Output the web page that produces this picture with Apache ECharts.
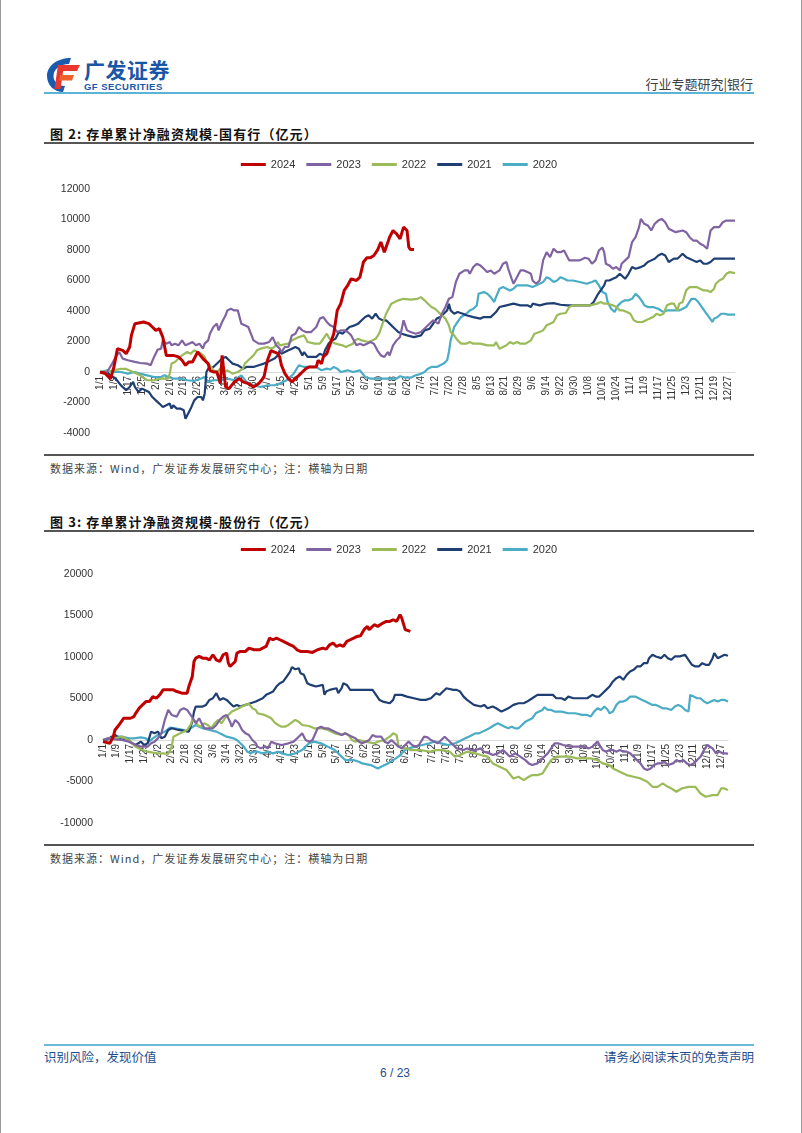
<!DOCTYPE html>
<html><head><meta charset="utf-8">
<script src="https://cdn.jsdelivr.net/npm/echarts@6/dist/echarts.min.js"></script>
<style>
body{margin:0;background:#fff;}
#page{position:relative;width:802px;height:1133px;overflow:hidden;background:#fff;font-family:"Noto Sans CJK SC","Noto Sans",sans-serif;}
.abs{position:absolute;white-space:nowrap;}
.vl{position:absolute;top:0;width:1px;height:1133px;background:#9a9a9a;}
.title{font-size:13px;font-weight:bold;color:#111;letter-spacing:1.1px;}
.rule{position:absolute;left:44px;width:710px;background:#555;}
.src{font-size:11px;color:#444;letter-spacing:1px;}
.foot{font-size:12.5px;color:#1f4e8c;}
</style></head>
<body>
<div id="page">
  <div class="vl" style="left:0"></div>
  <div class="vl" style="left:801px"></div>

  <svg class="abs" style="left:44px;top:55px" width="38" height="38" viewBox="0 0 38 38">
    <path d="M27 3 C13 3 3 11 3 21 C3 30 10 37 19 37 L21 31 C14 31 9.5 26.5 9.5 21 C9.5 14 16 9 25 9 Z" fill="#1a5bb0"/>
    <path d="M14 10 L36 10 L33 16 L17 16 Z" fill="#e8382f"/>
    <path d="M14 10 L20 10 L16.5 34 L10.5 34 Z" fill="#e8382f"/>
    <path d="M16 20 L30 20 L28 25.5 L15 25.5 Z" fill="#f0602a"/>
  </svg>
  <div class="abs" style="left:84px;top:54px;font-size:21px;font-weight:bold;color:#1a56a8;letter-spacing:0.5px;">广发证券</div>
  <div class="abs" style="left:84px;top:81px;font-size:9.5px;font-weight:bold;color:#1a56a8;font-family:'Liberation Sans',Arial,sans-serif;letter-spacing:0.45px;">GF SECURITIES</div>
  <div class="abs" style="right:49px;top:74px;font-size:13px;color:#404040;">行业专题研究|银行</div>
  <div class="abs" style="left:44px;top:92px;width:710px;height:2px;background:#5cb3d8;"></div>

  <div class="abs title" style="left:50px;top:124px;">图 2: 存单累计净融资规模-国有行（亿元）</div>
  <div class="rule" style="top:142px;height:2px;"></div>
  <div id="c1" class="abs" style="left:44px;top:150px;width:710px;height:302px;"></div>
  <div class="rule" style="top:454px;height:1.5px;"></div>
  <div class="abs src" style="left:50px;top:460px;">数据来源：Wind，广发证券发展研究中心；注：横轴为日期</div>

  <div class="abs title" style="left:50px;top:512px;">图 3: 存单累计净融资规模-股份行（亿元）</div>
  <div class="rule" style="top:530px;height:2px;"></div>
  <div id="c2" class="abs" style="left:44px;top:538px;width:710px;height:302px;"></div>
  <div class="rule" style="top:844px;height:1.5px;"></div>
  <div class="abs src" style="left:50px;top:850px;">数据来源：Wind，广发证券发展研究中心；注：横轴为日期</div>

  <div class="abs" style="left:44px;top:1044px;width:710px;height:2px;background:#6bbad8;"></div>
  <div class="abs foot" style="left:44px;top:1047px;">识别风险，发现价值</div>
  <div class="abs foot" style="right:48px;top:1047px;">请务必阅读末页的免责声明</div>
  <div class="abs foot" style="left:380px;top:1066px;width:30px;text-align:center;font-family:'Liberation Sans',Arial,sans-serif;font-size:12px;">6 / 23</div>
</div>
<script>
// ---- categories (daily, 1/1 .. 12/31) ----
const monthDays = [31,28,31,30,31,30,31,31,30,31,30,31];
const dateLabels = [];
monthDays.forEach((n, m) => { for (let d = 1; d <= n; d++) dateLabels.push((m + 1) + '/' + d); });

const seriesNames = ['2024','2023','2022','2021','2020'];
const seriesColors = ['#c00000','#8064a2','#9bbb59','#1f3f73','#4bacc6'];

// ---- 图2 国有行: [day of year (0 = 1/1), 亿元] ----
const soe2024 = [[0,0],[3,-100],[6,-450],[8,330],[10,1530],[13,1420],[15,1200],[17,1640],[18,2400],[19,2290],[20,3170],[21,3280],[25,3280],[28,3170],[30,2950],[32,2730],[34,2840],[35,2950],[36,2290],[38,1090],[42,1090],[45,990],[47,770],[49,440],[51,660],[53,660],[54,770],[56,1310],[57,1420],[59,880],[62,550],[63,110],[65,0],[67,0],[69,-760],[70,1090],[72,-980],[74,-1090],[77,-650],[80,-430],[82,-650],[83,-540],[85,-760],[88,-980],[91,-760],[94,-330],[96,770],[98,1400],[100,1310],[102,1200],[103,990],[104,440],[106,-110],[108,-430],[110,-650],[112,-430],[114,-220],[116,0],[118,220],[120,330],[122,330],[124,330],[125,770],[127,550],[128,990],[130,1200],[132,1860],[134,2510],[136,4040],[138,4480],[140,5350],[142,5680],[144,6110],[145,6000],[147,6000],[149,6220],[151,7210],[153,7490],[155,7490],[157,7640],[159,7970],[161,8520],[163,7860],[164,7750],[166,8840],[168,9280],[170,9060],[172,8730],[174,9500],[176,9280],[177,8190],[178,8030],[180,8030]];
const soe2023 = [[0,0],[4,0],[7,550],[9,990],[11,1310],[13,880],[16,770],[20,660],[23,590],[27,550],[29,440],[31,990],[33,1460],[35,1530],[36,2070],[38,1860],[40,1970],[41,1750],[43,1860],[45,1750],[47,2070],[49,1750],[51,1860],[53,1970],[55,1750],[57,1860],[59,1530],[60,1860],[62,2070],[63,2510],[65,2950],[67,3170],[68,2730],[70,3280],[72,3720],[73,4040],[75,4150],[77,4040],[79,4040],[81,3170],[83,3060],[85,2950],[88,2070],[91,1860],[94,1860],[97,1970],[99,2290],[101,1750],[103,1530],[104,1310],[106,1640],[108,1640],[110,2400],[112,2510],[114,2950],[116,2730],[118,2620],[121,2620],[124,2950],[126,3500],[128,3600],[130,3280],[132,3060],[134,2950],[136,2620],[138,2730],[140,2730],[142,2620],[144,2400],[145,2180],[147,1750],[149,1860],[151,1750],[153,1860],[155,1970],[157,1860],[159,1420],[161,1090],[163,990],[165,1310],[166,1090],[168,1750],[170,2070],[172,2290],[174,3390],[175,3500],[176,2730],[178,2620],[181,2510],[184,2620],[187,2950],[191,3390],[194,3170],[196,3820],[198,4260],[200,4800],[202,4910],[204,5900],[206,6440],[207,6550],[209,6660],[211,6660],[212,6440],[214,6880],[216,7100],[218,6990],[220,6770],[222,6550],[224,6660],[226,6440],[227,6550],[229,6660],[231,7100],[233,7210],[234,6770],[236,6110],[237,5790],[239,6220],[241,6660],[243,6660],[245,6550],[247,6440],[248,6000],[250,5790],[252,6000],[254,7320],[256,7860],[258,7530],[260,8080],[262,7860],[264,7860],[266,7970],[268,7530],[269,7320],[275,7320],[278,7490],[280,7430],[282,7100],[284,7320],[286,7970],[288,8150],[289,7860],[290,7100],[292,6990],[294,6770],[296,6880],[298,6660],[299,7100],[301,7320],[303,7530],[305,8520],[307,8840],[309,9500],[310,10040],[312,9720],[314,9610],[316,9280],[318,9720],[320,9930],[322,10040],[324,9820],[326,9390],[328,9280],[330,9170],[331,9280],[334,9280],[336,9170],[338,8840],[340,8620],[342,8620],[344,8410],[346,8300],[348,8080],[350,9280],[352,9500],[353,9610],[355,9500],[357,9820],[359,9930],[364,9930]];
const soe2022 = [[0,0],[7,100],[12,200],[15,200],[19,0],[23,-220],[27,-540],[31,-540],[35,-430],[39,-430],[40,-110],[41,550],[43,660],[45,880],[47,1090],[50,1310],[52,1200],[54,1420],[56,1310],[58,1200],[60,990],[61,660],[63,440],[65,110],[67,0],[69,220],[71,0],[73,110],[76,-110],[79,0],[82,220],[83,550],[85,770],[88,1090],[90,1420],[92,1530],[96,1640],[98,1530],[100,1640],[102,1970],[103,1750],[108,1860],[110,2070],[112,2180],[114,2290],[117,2400],[119,1970],[123,1860],[126,1860],[128,2180],[130,2510],[131,2290],[133,1970],[135,1860],[139,1750],[141,1640],[143,1750],[145,1860],[146,2070],[148,2180],[150,2070],[154,1970],[156,2070],[158,2180],[160,2510],[162,3170],[164,3820],[166,4260],[167,4480],[169,4590],[171,4700],[174,4800],[178,4750],[182,4800],[184,4910],[186,4700],[188,4480],[190,4260],[192,4150],[194,3930],[196,3720],[198,3500],[200,3060],[201,2620],[203,2400],[205,2070],[207,1860],[208,1750],[210,1860],[212,1970],[214,1860],[218,1860],[222,1750],[226,1750],[227,1970],[229,1530],[231,1640],[233,1750],[235,1970],[237,1860],[239,1970],[241,1860],[244,1860],[247,2070],[249,2510],[250,2510],[252,2620],[254,2730],[256,3060],[258,3170],[260,3280],[262,3720],[264,3820],[267,3870],[269,4260],[271,4370],[281,4370],[285,4480],[287,4590],[289,4480],[291,4480],[294,4370],[296,4260],[298,4040],[300,4040],[302,3930],[304,3820],[306,3390],[308,3280],[311,3280],[313,3390],[315,3500],[317,3600],[319,3820],[321,3720],[323,3820],[325,4370],[327,4480],[329,4480],[331,4040],[332,4480],[334,4590],[336,5350],[338,5570],[342,5570],[344,5460],[346,5350],[348,5350],[350,5240],[352,5460],[353,5790],[355,6000],[357,6110],[359,6440],[361,6550],[364,6480]];
const soe2021 = [[0,0],[4,0],[6,-220],[9,-440],[12,-880],[15,-1200],[17,-980],[19,-650],[20,-980],[22,-1310],[24,-1090],[26,-1200],[28,-1310],[30,-1640],[32,-1860],[34,-2070],[36,-2290],[38,-2180],[40,-2070],[41,-2400],[42,-2180],[44,-2400],[46,-2400],[48,-2510],[49,-3060],[50,-2950],[52,-2400],[54,-1860],[56,-1640],[58,-1640],[59,-1860],[60,-1420],[61,0],[62,220],[65,330],[68,660],[70,880],[72,990],[74,770],[76,550],[79,440],[82,220],[84,330],[88,330],[91,440],[94,550],[96,660],[98,770],[100,880],[102,1090],[103,1420],[104,1200],[106,1310],[108,1420],[110,1530],[112,1640],[114,1530],[116,1090],[117,1310],[119,990],[124,990],[126,1200],[128,1090],[129,1420],[131,1860],[133,2070],[135,2180],[137,2620],[139,2510],[141,2730],[143,2950],[146,3060],[148,3170],[150,3390],[152,3610],[154,3720],[156,3500],[158,3820],[160,3500],[162,3390],[164,3390],[166,3170],[167,3060],[169,2840],[171,2620],[173,2510],[176,2400],[180,2290],[184,2400],[186,2730],[187,2620],[189,2840],[191,3170],[193,3500],[195,3600],[197,3820],[199,4040],[200,4480],[201,4040],[203,3820],[205,3930],[206,4040],[208,3820],[210,3720],[214,3600],[218,3500],[220,3600],[224,3600],[227,3930],[229,4260],[233,4370],[237,4480],[241,4370],[245,4370],[247,4260],[248,4480],[252,4370],[256,4480],[260,4520],[264,4410],[268,4370],[281,4370],[283,4590],[285,5020],[287,5350],[289,5680],[290,6000],[292,6000],[294,6110],[296,6220],[298,6440],[299,6550],[301,6110],[303,6440],[305,6880],[307,6770],[310,6880],[312,6990],[314,7210],[316,7320],[318,7430],[320,7640],[322,7750],[324,7640],[326,7210],[327,7100],[329,7430],[331,7430],[332,7530],[334,7750],[336,7530],[338,7430],[340,7320],[342,7210],[344,7320],[346,7100],[348,7100],[350,7210],[352,7430],[364,7430]];
const soe2020 = [[0,0],[4,110],[8,0],[12,0],[16,-110],[20,0],[23,-110],[27,-220],[31,-330],[35,-330],[37,-220],[39,-330],[42,-430],[46,-430],[50,-540],[54,-590],[58,-430],[60,-330],[62,-650],[65,-540],[69,-540],[73,-430],[77,-540],[81,-220],[84,-650],[88,-870],[92,-980],[96,-870],[100,-870],[103,-760],[107,-540],[111,-110],[114,440],[117,330],[121,330],[124,330],[127,110],[130,220],[132,160],[134,330],[136,220],[138,0],[142,110],[145,0],[149,110],[152,-330],[155,-430],[161,-430],[166,-430],[170,-430],[172,-280],[175,-370],[178,-370],[181,-220],[184,-110],[186,0],[188,220],[190,330],[193,330],[195,440],[197,550],[199,770],[200,1310],[201,2070],[203,2950],[205,3280],[207,3610],[208,3720],[210,3820],[212,4040],[214,4150],[216,4370],[217,5130],[220,5240],[222,5130],[224,4910],[226,4590],[227,4910],[229,5460],[231,5570],[233,5460],[235,5350],[237,5460],[239,5680],[245,5680],[248,5570],[250,5680],[252,5790],[254,5900],[256,6220],[258,6110],[260,5900],[262,6000],[264,6220],[266,6110],[268,6000],[271,6000],[275,5900],[279,5790],[282,5900],[284,6000],[286,5680],[288,5240],[290,5130],[291,4590],[293,4150],[295,3930],[297,4370],[299,4590],[301,4700],[303,4700],[305,4800],[307,5130],[309,4910],[311,4590],[312,4370],[314,4260],[317,4260],[320,4150],[323,3930],[325,4040],[332,4040],[336,4260],[339,4800],[341,4800],[343,4590],[345,4260],[347,3930],[349,3610],[351,3280],[352,3500],[354,3610],[356,3820],[358,3820],[360,3760],[364,3760]];

// ---- 图3 股份行: [day of year (0 = 1/1), 亿元] ----
const jsb2024 = [[0,-200],[4,-400],[6,400],[7,1210],[10,2010],[12,2620],[16,2620],[18,2820],[19,3220],[21,3820],[23,4230],[25,4630],[27,4630],[29,5230],[31,5030],[33,5440],[35,6040],[37,6040],[41,6040],[43,5840],[46,5640],[49,5640],[50,6440],[52,7650],[53,9460],[54,9860],[56,10070],[58,9860],[60,9860],[62,9660],[64,10270],[66,9660],[68,9460],[70,10270],[72,10470],[73,9260],[74,8860],[75,8660],[77,9460],[78,10470],[80,10670],[83,10670],[85,11070],[88,10870],[89,11070],[91,10870],[93,11070],[95,11270],[97,12280],[99,12080],[101,12280],[103,12080],[105,11880],[107,11680],[109,11470],[111,11270],[113,10870],[115,10670],[119,10670],[122,10550],[125,10870],[128,11070],[130,10950],[132,11470],[134,11680],[136,11270],[138,11470],[140,11270],[142,11880],[144,12080],[146,12280],[148,12480],[150,12560],[152,13290],[154,13690],[155,13290],[156,13490],[158,13890],[160,13690],[161,13890],[163,14090],[165,14290],[167,14290],[169,14490],[171,14290],[173,15100],[174,14690],[176,13290],[177,13080],[179,13080]];
const jsb2023 = [[0,0],[3,200],[7,80],[11,0],[15,-200],[17,-400],[19,-600],[20,-720],[22,-800],[26,-800],[28,-400],[30,-200],[32,200],[34,800],[36,2420],[37,3020],[38,3620],[40,3020],[41,3220],[43,2820],[45,3620],[47,3820],[49,3620],[51,3020],[53,2420],[54,2010],[56,2620],[57,2210],[59,1410],[60,1210],[62,1410],[64,1410],[66,1810],[68,2420],[70,2820],[72,3020],[74,2210],[75,1610],[77,2420],[79,2010],[81,1210],[83,800],[85,600],[87,0],[89,-400],[90,-800],[92,-1010],[94,-800],[96,-1010],[98,-200],[100,-400],[104,-600],[108,-400],[111,-200],[114,400],[116,800],[118,0],[120,-200],[122,0],[123,-200],[125,1410],[127,1610],[129,1410],[131,1410],[133,1210],[135,1010],[137,800],[139,600],[141,800],[143,600],[145,400],[147,200],[149,-200],[151,-400],[153,-200],[155,0],[157,600],[158,800],[159,400],[160,200],[162,400],[164,-200],[166,-400],[168,0],[170,-400],[172,-800],[174,-1010],[176,-600],[178,-200],[180,-600],[182,-800],[184,-600],[187,400],[189,320],[191,0],[192,-200],[195,-400],[197,0],[199,400],[201,0],[204,-600],[206,-1010],[210,-1210],[212,-1010],[215,-1210],[217,-1210],[220,-1010],[222,-1410],[225,-1610],[227,-1810],[230,-1610],[233,-1210],[235,-1610],[237,-2010],[240,-1610],[243,-2010],[246,-2420],[248,-2820],[250,-3020],[253,-2820],[255,-2420],[257,-2010],[259,-1610],[261,-1010],[263,-400],[265,-400],[268,-600],[272,-800],[276,-800],[280,-800],[283,-1010],[285,-800],[288,-200],[289,0],[291,-1210],[293,-1410],[295,-1210],[297,-1210],[299,-1410],[301,-1210],[303,-1410],[305,-1410],[307,-1610],[309,-2010],[311,-2420],[313,-2820],[315,-3420],[317,-3620],[319,-3420],[321,-3020],[323,-2820],[325,-2820],[327,-2620],[329,-3020],[330,-3020],[332,-2820],[334,-2420],[336,-2620],[338,-2420],[340,-2820],[342,-3020],[344,-2820],[346,-2420],[348,-2010],[350,-1210],[352,-600],[353,-400],[355,-1010],[357,-1610],[359,-1410],[361,-1610],[363,-1610],[364,-1690]];
const jsb2022 = [[0,0],[3,200],[7,200],[11,400],[13,200],[15,0],[17,-400],[19,-800],[20,-1010],[23,-1210],[26,-1410],[29,-1530],[32,-1610],[35,-1610],[38,-1690],[40,-800],[41,400],[43,600],[45,800],[47,1010],[49,1210],[51,1810],[52,2420],[54,2210],[55,1810],[57,1610],[59,2010],[61,1810],[63,1410],[65,2010],[67,2420],[69,2010],[71,2620],[73,3020],[75,3420],[77,3620],[79,3820],[81,4030],[83,4230],[85,4350],[87,3820],[89,3620],[90,3220],[94,3020],[96,2820],[98,2620],[100,2100],[102,1810],[104,1610],[106,1610],[108,1810],[112,2420],[114,2210],[116,1810],[120,1690],[123,1410],[127,1410],[131,1210],[135,800],[139,600],[141,800],[143,600],[145,0],[147,-200],[149,0],[153,-200],[158,-400],[160,-200],[164,0],[167,400],[169,800],[171,600],[172,-600],[174,-1010],[177,-1010],[179,-1210],[182,-1210],[185,-1210],[190,-1410],[194,-1210],[198,-1210],[202,-1410],[205,-2010],[208,-1810],[212,-1410],[217,-1610],[220,-1810],[224,-2010],[227,-2820],[231,-3220],[235,-3620],[239,-4630],[242,-4430],[245,-4830],[248,-4430],[250,-4230],[253,-4230],[256,-4030],[259,-3020],[261,-2420],[264,-2010],[268,-2010],[272,-2010],[276,-2210],[280,-2210],[284,-2210],[288,-2420],[291,-2820],[295,-3020],[297,-3420],[301,-3820],[305,-4230],[309,-4430],[313,-4630],[317,-5030],[320,-5640],[323,-5640],[326,-5230],[329,-5640],[331,-5840],[334,-6240],[337,-5840],[341,-5640],[345,-5640],[348,-6440],[351,-6840],[355,-6640],[358,-6640],[360,-5840],[362,-5840],[364,-6040]];
const jsb2021 = [[0,0],[3,80],[5,400],[7,600],[9,320],[11,0],[13,200],[15,0],[17,-400],[19,-600],[20,-400],[22,-200],[24,-600],[26,-400],[28,1010],[30,810],[32,1010],[34,200],[36,400],[38,1210],[40,1410],[44,1210],[50,1010],[52,2210],[53,3420],[54,4030],[58,4030],[60,4230],[62,4830],[64,5030],[66,5640],[68,4830],[70,5030],[72,4830],[74,4430],[76,4030],[78,4230],[80,4030],[83,4230],[86,4430],[89,4630],[93,5030],[95,5440],[97,5640],[99,5840],[101,6440],[103,6840],[105,7050],[107,7650],[109,8250],[110,8780],[112,8530],[114,8650],[115,8050],[117,7850],[119,6840],[121,6640],[124,6440],[128,6640],[129,5440],[130,5840],[132,6040],[136,6240],[137,5640],[139,6240],[140,6840],[142,6640],[144,6040],[150,6040],[157,6040],[159,5440],[161,4830],[163,4630],[167,4430],[169,4830],[170,5440],[174,5440],[177,5230],[181,5030],[185,4830],[188,4830],[191,5030],[194,5640],[196,5440],[198,5840],[200,6240],[201,6440],[204,6040],[206,6040],[208,5840],[210,5230],[212,4830],[216,4230],[220,4030],[222,4230],[224,3820],[227,4030],[229,3820],[232,3420],[234,3620],[236,3820],[239,4230],[242,4430],[245,4430],[247,4630],[250,5030],[253,5440],[256,5440],[259,5440],[262,5440],[264,5030],[267,5030],[269,4830],[271,5230],[274,5030],[278,5030],[282,5030],[283,5230],[285,5440],[287,5230],[289,5230],[291,5640],[293,6040],[295,6440],[297,7050],[299,7450],[301,7650],[303,7250],[305,7850],[307,8250],[309,8450],[311,8860],[313,8860],[315,9260],[317,9260],[318,9860],[320,10270],[322,10070],[325,9860],[327,10270],[329,9860],[331,9660],[333,10070],[336,10070],[339,10270],[341,9660],[343,9060],[345,8860],[347,8860],[349,9260],[351,9060],[353,9060],[355,9860],[356,10470],[358,9860],[360,10070],[362,10270],[364,10150]];
const jsb2020 = [[0,0],[3,200],[7,400],[11,400],[15,200],[18,200],[22,320],[25,200],[27,-200],[29,200],[32,600],[36,1010],[39,1490],[42,1410],[45,1290],[47,1210],[49,1010],[51,1410],[52,1610],[54,1810],[56,1610],[58,1410],[62,1210],[66,1010],[68,800],[70,600],[72,400],[76,200],[78,0],[80,-400],[82,-800],[84,-1410],[86,-1610],[88,-1410],[90,-1410],[93,-1610],[96,-1410],[99,-1610],[102,-1410],[104,-1610],[108,-1810],[112,-1610],[116,-1210],[118,-800],[120,-400],[123,-200],[127,-400],[131,-800],[135,-1210],[139,-2010],[141,-2420],[146,-2420],[149,-2620],[151,-2820],[156,-3020],[158,-3220],[160,-3420],[162,-3220],[164,-3020],[166,-2820],[169,-2420],[172,-2010],[174,-1610],[176,-1210],[178,-1010],[182,-800],[186,-600],[190,-400],[193,-200],[197,-400],[201,-600],[205,-400],[207,-200],[209,0],[211,200],[213,400],[215,600],[217,800],[219,800],[221,1010],[223,1210],[225,1410],[226,1410],[228,1810],[230,2010],[232,1810],[234,1610],[236,1410],[238,1610],[240,1410],[242,1410],[244,1810],[246,2210],[248,2420],[250,2620],[252,3220],[254,3420],[256,3620],[257,3950],[259,3620],[261,3620],[263,3420],[267,3420],[271,3220],[275,3220],[279,3020],[282,3020],[284,2820],[286,3420],[288,3820],[290,3620],[292,4030],[294,3620],[295,3220],[297,3420],[299,4230],[301,4630],[303,4630],[305,4830],[307,5230],[308,5440],[310,5230],[312,5030],[314,4830],[316,4630],[318,4430],[320,4230],[322,4230],[324,4030],[326,3820],[328,3820],[329,3620],[331,3620],[333,4030],[335,4230],[337,4030],[339,3620],[341,3420],[342,5430],[344,5230],[346,5030],[348,5030],[350,4630],[352,4430],[354,4630],[356,4830],[358,4630],[360,4830],[362,4830],[364,4630]];

const FONT = "'Liberation Sans', Arial, sans-serif";

function buildOption(dataSets, yMin, yMax, yInt, grid, legendTop) {
  // place the category axis (and its labels) on the zero line
  const zeroOffset = -grid.height * (0 - yMin) / (yMax - yMin);
  return {
    animation: false,
    legend: {
      top: legendTop, left: 'center',
      icon: 'rect', itemWidth: 25, itemHeight: 3, itemGap: 11,
      textStyle: { fontFamily: FONT, fontSize: 11, color: '#333' },
      data: seriesNames
    },
    grid: grid,
    xAxis: {
      type: 'category', boundaryGap: false, data: dateLabels,
      position: 'bottom', offset: zeroOffset,
      axisLine: { onZero: false, lineStyle: { color: '#d9d9d9', width: 1 } },
      axisTick: { show: false },
      axisLabel: { interval: 7, rotate: 90, fontSize: 10, color: '#333', margin: 4, fontFamily: FONT },
      splitLine: { show: false }
    },
    yAxis: {
      type: 'value', min: yMin, max: yMax, interval: yInt,
      axisLine: { show: false }, axisTick: { show: false }, splitLine: { show: false },
      axisLabel: { fontSize: 10.5, color: '#333', margin: 10, fontFamily: FONT, formatter: v => String(v) }
    },
    series: dataSets.map((d, i) => ({
      name: seriesNames[i], type: 'line', data: d,
      showSymbol: false, symbol: 'none',
      lineStyle: { color: seriesColors[i], width: i === 0 ? 3 : 2.2 },
      itemStyle: { color: seriesColors[i] },
      z: 10 - i
    }))
  };
}

const c1 = echarts.init(document.getElementById('c1'));
c1.setOption(buildOption([soe2024, soe2023, soe2022, soe2021, soe2020], -4000, 12000, 2000,
  { left: 56, right: 19, top: 39, height: 244, containLabel: false }, 4));

const c2 = echarts.init(document.getElementById('c2'));
c2.setOption(buildOption([jsb2024, jsb2023, jsb2022, jsb2021, jsb2020], -10000, 20000, 5000,
  { left: 59, right: 26, top: 36, height: 249, containLabel: false }, 1));
</script>
</body></html>
